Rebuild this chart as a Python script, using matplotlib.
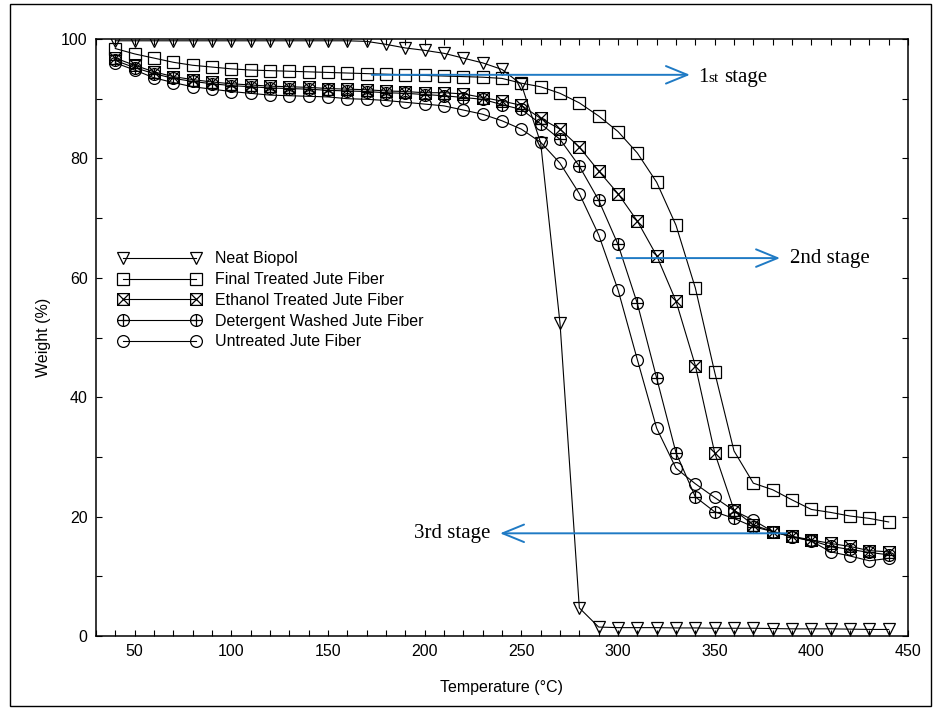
import matplotlib
matplotlib.use("Agg")
import matplotlib.pyplot as plt
from matplotlib.path import Path
from matplotlib.patches import Rectangle
import numpy as np

temperature = list(range(40, 441, 10))

neat_biopol = [99.7]*13 + [99.6, 99.1, 98.5, 98.1, 97.6, 96.8, 96.0, 94.9, 92.4, 82.6, 52.4, 4.7, 1.5,
                          1.4, 1.4, 1.4, 1.35, 1.35, 1.3, 1.3, 1.3, 1.25, 1.2, 1.2, 1.2, 1.15, 1.1, 1.1]
final_treated = [98.4, 97.5, 96.8, 96.1, 95.6, 95.3, 95.0, 94.8, 94.7, 94.6, 94.5, 94.4, 94.3, 94.2,
                 94.1, 94.0, 93.9, 93.8, 93.7, 93.6, 93.4, 92.6, 92.0, 90.9, 89.3, 87.1, 84.5, 80.9,
                 76.0, 68.8, 58.3, 44.2, 31.0, 25.6, 24.5, 22.8, 21.2, 20.7, 20.1, 19.7, 19.1]
ethanol_treated = [96.8, 95.6, 94.5, 93.7, 93.2, 92.8, 92.5, 92.3, 92.1, 92.0, 91.9, 91.7, 91.6, 91.5,
                   91.3, 91.2, 91.0, 91.0, 90.8, 90.2, 89.6, 88.9, 86.7, 84.9, 81.9, 77.9, 74.1, 69.5,
                   63.7, 56.1, 45.3, 30.7, 21.1, 18.6, 17.5, 16.7, 16.1, 15.5, 15.0, 14.3, 14.1]
detergent_washed = [96.4, 95.2, 94.2, 93.4, 92.9, 92.5, 92.2, 92.0, 91.8, 91.7, 91.6, 91.4, 91.3, 91.2,
                    91.0, 90.9, 90.7, 90.5, 90.2, 89.9, 89.0, 88.2, 85.8, 83.2, 78.7, 73.0, 65.6, 55.7,
                    43.2, 30.7, 23.3, 20.8, 19.7, 18.3, 17.5, 16.6, 16.0, 15.0, 14.5, 14.0, 13.6]
untreated = [96.0, 94.8, 93.5, 92.7, 92.0, 91.6, 91.2, 90.9, 90.6, 90.5, 90.4, 90.3, 90.0, 89.9,
             89.7, 89.4, 89.1, 88.8, 88.1, 87.4, 86.3, 84.9, 82.7, 79.2, 74.1, 67.2, 58.0, 46.3,
             34.8, 28.1, 25.5, 23.2, 21.0, 19.4, 17.5, 16.6, 15.9, 14.1, 13.4, 12.6, 13.0]

series_labels = ["Neat Biopol", "Final Treated Jute Fiber", "Ethanol Treated Jute Fiber",
                 "Detergent Washed Jute Fiber", "Untreated Jute Fiber"]
x_tick_values = list(range(30, 451, 10))
x_tick_labels = [str(v) if v % 50 == 0 else "" for v in x_tick_values]
y_tick_values = list(range(0, 101, 10))
y_tick_labels = [str(v) if v % 20 == 0 else "" for v in y_tick_values]

# custom markers
M, L, C = Path.MOVETO, Path.LINETO, Path.CLOSEPOLY
box_x = Path([(-1, -1), (1, -1), (1, 1), (-1, 1), (-1, -1),
              (-1, -1), (1, 1), (-1, 1), (1, -1)],
             [M, L, L, L, C, M, L, M, L])
circ = Path.unit_circle()
circle_plus = Path.make_compound_path(
    circ,
    Path([(-1, 0), (1, 0)], [M, L]),
    Path([(0, -1), (0, 1)], [M, L]))

plt.rcParams['font.family'] = ['Liberation Sans', 'DejaVu Sans']

fig = plt.figure(figsize=(9.36, 7.14), dpi=100)
ax = fig.add_axes([96/936, 1 - 636/714, (908-96)/936, (636-39)/714])

style = dict(color='black', linewidth=0.8, markerfacecolor='none',
             markeredgecolor='black', markeredgewidth=0.9)
ax.plot(temperature, neat_biopol, marker='v', markersize=9, label=series_labels[0], **style)
ax.plot(temperature, final_treated, marker='s', markersize=8.5, label=series_labels[1], **style)
ax.plot(temperature, ethanol_treated, marker=box_x, markersize=8.5, label=series_labels[2], **style)
ax.plot(temperature, detergent_washed, marker=circle_plus, markersize=8.5, label=series_labels[3], **style)
ax.plot(temperature, untreated, marker='o', markersize=8.5, label=series_labels[4], **style)

ax.set_xlim(30, 450)
ax.set_ylim(0, 100)
ax.set_xticks(x_tick_values)
ax.set_xticklabels(x_tick_labels)
ax.set_yticks(y_tick_values)
ax.set_yticklabels(y_tick_labels)
ax.tick_params(direction='in', top=True, right=True, length=4, width=0.8,
               labelsize=11.5, pad=6)
for s in ax.spines.values():
    s.set_linewidth(1.1)

ax.set_xlabel("Temperature (°C)", fontsize=11.5, labelpad=15)
ax.set_ylabel("Weight (%)", fontsize=11.5, labelpad=7)

leg = ax.legend(loc='upper left', bbox_to_anchor=(0.019, 0.655), frameon=False,
                numpoints=2, handlelength=5.2, handletextpad=0.9, labelspacing=0.36,
                fontsize=11.5, borderaxespad=0)

blue = '#1f7ac4'
arrow_kw = dict(arrowstyle='->,head_length=1.1,head_width=0.45', color=blue, lw=1.4,
                mutation_scale=14, shrinkA=0, shrinkB=0)
serif = ['Liberation Serif', 'DejaVu Serif']
ax.annotate('', xy=(337.2, 94.0), xytext=(172.6, 94.0), arrowprops=arrow_kw, zorder=5)
base1 = 92.8
ax.text(341.5, base1, "1", family=serif, fontsize=15, va='baseline', ha='left')
ax.annotate("st", xy=(341.5, base1), xytext=(7.6, 0), textcoords='offset points',
            family=serif, fontsize=11, va='baseline', ha='left')
ax.annotate("stage", xy=(341.5, base1), xytext=(18.6, 0), textcoords='offset points',
            family=serif, fontsize=15, va='baseline', ha='left')
ax.annotate('', xy=(383.8, 63.3), xytext=(299.3, 63.3), arrowprops=arrow_kw, zorder=5)
ax.text(389.0, 63.3, "2nd stage", family=serif, fontsize=15, va='center', ha='left')
ax.annotate('', xy=(239.0, 17.2), xytext=(387.2, 17.2), arrowprops=arrow_kw, zorder=5)
ax.text(233.8, 17.2, "3rd stage", family=serif, fontsize=15, va='center', ha='right')

# outer frame
fig.patches.append(Rectangle((10/936, 1 - 706/714), (931-10)/936, (706-4)/714,
                             transform=fig.transFigure, fill=False, edgecolor='black',
                             linewidth=1.0))

fig.savefig("out.png", dpi=100)
